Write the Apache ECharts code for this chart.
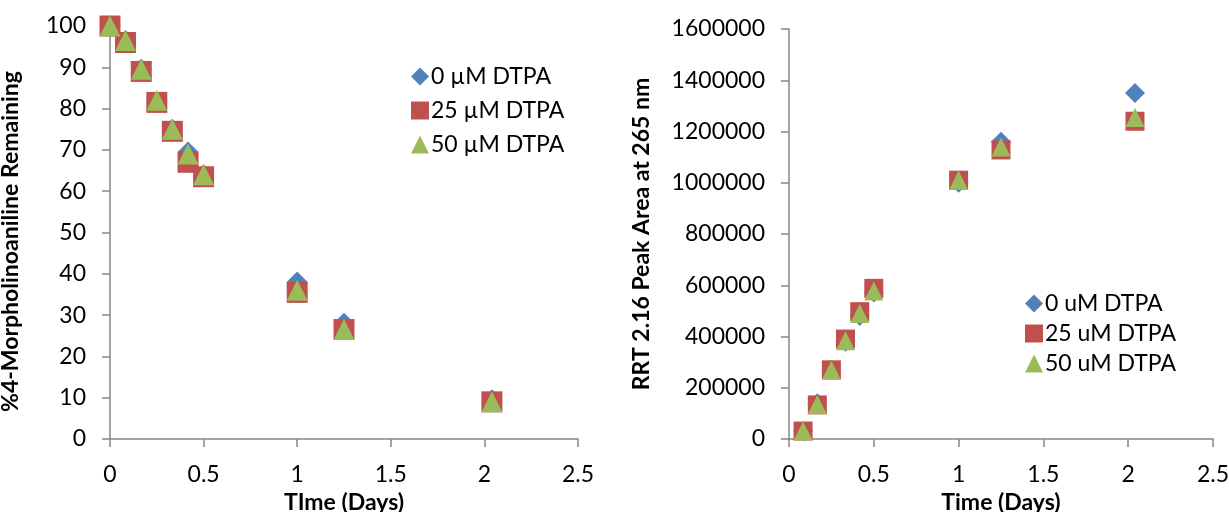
<!DOCTYPE html>
<html>
<head>
<meta charset="utf-8">
<script src="https://cdn.jsdelivr.net/npm/echarts@6/dist/echarts.min.js"></script>
<style>
  html, body { margin: 0; padding: 0; background: #fff; }
  #main { width: 1229px; height: 512px; }
</style>
</head>
<body>
<div id="main"></div>
<script>
// left chart: % remaining vs time
var daysLeft = [0, 0.083, 0.167, 0.25, 0.333, 0.417, 0.5, 1, 1.25, 2.04];
var remain0 = [100, 96.5, 89.5, 81.5, 75, 69.5, 64, 38, 28, 9.5];
var remain25 = [100, 96, 89, 81.5, 74.5, 67, 63.5, 35.5, 26.5, 9];
var remain50 = [100, 96.5, 89.5, 82, 75, 69, 64, 36, 26.5, 9];

// right chart: RRT 2.16 peak area vs time
var daysRight = [0.083, 0.167, 0.25, 0.333, 0.417, 0.5, 1, 1.25, 2.04];
var area0 = [30000, 140000, 270000, 380000, 480000, 572000, 1000000, 1160000, 1350000];
var area25 = [31000, 133000, 270000, 390000, 497000, 588000, 1010000, 1128000, 1240000];
var area50 = [31000, 135000, 268000, 383000, 490000, 578000, 1010000, 1140000, 1255000];

var namesLeft = ['0 µM DTPA', '25 µM DTPA', '50 µM DTPA'];
var namesRight = ['0 uM DTPA', '25 uM DTPA', '50 uM DTPA'];

var colors = ['#4F81BD', '#C0504D', '#9BBB59'];
var symbols = ['diamond', 'rect', 'triangle'];
var font = 'Lato, "Open Sans", sans-serif';

function pairs(xs, ys) {
  return xs.map(function (x, i) { return [x, ys[i]]; });
}

var axisLine = { lineStyle: { color: '#868686', width: 1.5 } };
var axisTick = { inside: false, length: 8, lineStyle: { color: '#868686', width: 1.5 } };

function xAxis(idx, name) {
  return {
    type: 'value', gridIndex: idx, min: 0, max: 2.5, interval: 0.5,
    name: name, nameLocation: 'middle', nameGap: 50,
    nameTextStyle: { fontFamily: font, fontSize: 23, fontWeight: 'bold', color: '#000' },
    axisLine: axisLine, axisTick: axisTick, splitLine: { show: false },
    axisLabel: { fontFamily: font, fontSize: 23, color: '#000', margin: 24 }
  };
}

function yAxis(idx, name, max, interval, gap, pad) {
  return {
    type: 'value', gridIndex: idx, min: 0, max: max, interval: interval,
    name: name, nameLocation: 'middle', nameGap: gap,
    nameTextStyle: { fontFamily: font, fontSize: 23, fontWeight: 'bold', color: '#000', padding: pad },
    axisLine: Object.assign({ show: true }, axisLine), axisTick: Object.assign({ show: true }, axisTick),
    splitLine: { show: false },
    axisLabel: { fontFamily: font, fontSize: 23, color: '#000', margin: 24,
      formatter: function (v) { return String(v); } }
  };
}

function scatter(name, idx, data, k, size) {
  return {
    name: name, type: 'scatter', xAxisIndex: idx, yAxisIndex: idx,
    data: data, symbol: symbols[k], symbolSize: size,
    itemStyle: { color: colors[k], opacity: 1 }
  };
}

var chart = echarts.init(document.getElementById('main'), null, { renderer: 'canvas' });

var option = {
  backgroundColor: '#fff',
  animation: false,
  grid: [
    { left: 110, top: 26, width: 468, height: 413, outerBoundsMode: 'none' },
    { left: 789, top: 29, width: 424, height: 410, outerBoundsMode: 'none' }
  ],
  legend: [
    {
      orient: 'vertical', left: 406, top: 60, itemGap: 11, itemWidth: 18, itemHeight: 18,
      textStyle: { fontFamily: font, fontSize: 23, color: '#000', padding: [0, 0, 0, -3] },
      data: namesLeft.map(function (n, k) { return { name: n, icon: symbols[k] }; })
    },
    {
      orient: 'vertical', left: 1020, top: 287, itemGap: 7, itemWidth: 18, itemHeight: 18,
      textStyle: { fontFamily: font, fontSize: 23, color: '#000', padding: [0, 0, 0, -3] },
      data: namesRight.map(function (n, k) { return { name: n, icon: symbols[k] }; })
    }
  ],
  xAxis: [xAxis(0, 'TIme (Days)'), xAxis(1, 'Time (Days)')],
  yAxis: [
    yAxis(0, '%4-Morpholinoaniline Remaining', 100, 10, 88, [0, 18, 0, 0]),
    yAxis(1, 'RRT 2.16 Peak Area at 265 nm', 1600000, 200000, 136, 0)
  ],
  series: [
    scatter(namesLeft[0], 0, pairs(daysLeft, remain0), 0, 21),
    scatter(namesLeft[1], 0, pairs(daysLeft, remain25), 1, 21),
    scatter(namesLeft[2], 0, pairs(daysLeft, remain50), 2, 21),
    scatter(namesRight[0], 1, pairs(daysRight, area0), 0, 20),
    scatter(namesRight[1], 1, pairs(daysRight, area25), 1, 19),
    scatter(namesRight[2], 1, pairs(daysRight, area50), 2, 19)
  ]
};

chart.setOption(option);
</script>
</body>
</html>
